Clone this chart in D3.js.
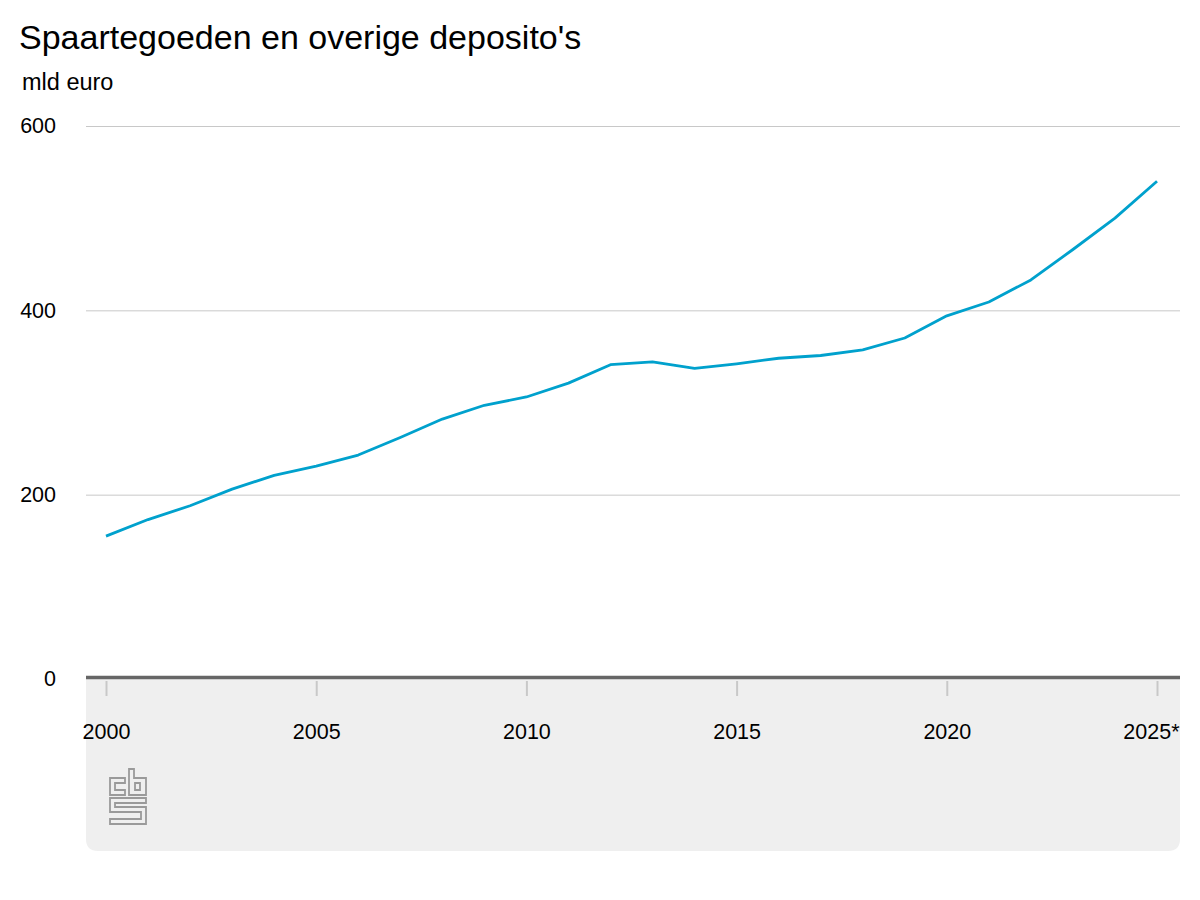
<!DOCTYPE html>
<html>
<head>
<meta charset="utf-8">
<script src="https://cdn.jsdelivr.net/npm/d3@7"></script>
<style>
  body { margin: 0; background: #fff; }
  svg { display: block; font-family: "Liberation Sans", Arial, Helvetica, sans-serif; }
</style>
</head>
<body>
<div id="chart"></div>
<script>
// data
const years = [2000, 2001, 2002, 2003, 2004, 2005, 2006, 2007, 2008, 2009, 2010, 2011, 2012,
  2013, 2014, 2015, 2016, 2017, 2018, 2019, 2020, 2021, 2022, 2023, 2024, 2025];
const values = [155, 173, 188, 206, 221, 231, 243, 262, 282, 297, 306, 321, 341,
  344, 337, 342, 348, 351, 357, 370, 394, 409, 433, 466, 500, 540];
const yTicks = [0, 200, 400, 600];
const xTicks = [2000, 2005, 2010, 2015, 2020, 2025];
const xTickLabels = ["2000", "2005", "2010", "2015", "2020", "2025*"];

const W = 1200, H = 900;
const plotLeft = 86, plotRight = 1180, plotTop = 126, zeroY = 679;

const svg = d3.select("#chart").append("svg")
  .attr("width", W).attr("height", H);

const x = d3.scaleLinear().domain([2000, 2025]).range([106, 1157]);
const y = d3.scaleLinear().domain([0, 600]).range([zeroY, plotTop]);

// titel
svg.append("text").attr("x", 19).attr("y", 49)
  .attr("font-size", 34).attr("fill", "#000")
  .text("Spaartegoeden en overige deposito's");
svg.append("text").attr("x", 22).attr("y", 90)
  .attr("font-size", 23.5).attr("fill", "#000")
  .text("mld euro");

// grijs vlak onder de nullijn
const r = 12, pb = 851;
svg.append("path")
  .attr("d", `M${plotLeft},${zeroY} H${plotRight} V${pb - r} Q${plotRight},${pb} ${plotRight - r},${pb} H${plotLeft + r} Q${plotLeft},${pb} ${plotLeft},${pb - r} Z`)
  .attr("fill", "#efefef");

// y-as met rasterlijnen
const yAxis = svg.append("g")
  .attr("transform", `translate(${plotLeft},0)`)
  .call(d3.axisLeft(y).tickValues(yTicks).tickSize(-(plotRight - plotLeft)).tickPadding(30));
yAxis.select(".domain").remove();
yAxis.selectAll(".tick line")
  .attr("stroke", "#c8c8c8").attr("stroke-width", 1)
  .filter(d => d === 0).remove();
yAxis.selectAll(".tick text")
  .attr("font-size", 21.5).attr("fill", "#000")
  .attr("font-family", "Liberation Sans, Arial, sans-serif");

// x-as
const xAxis = svg.append("g")
  .attr("transform", `translate(0,${zeroY + 2})`)
  .call(d3.axisBottom(x).tickValues(xTicks).tickSize(15).tickPadding(28)
    .tickFormat((d, i) => xTickLabels[i]));
xAxis.select(".domain").remove();
xAxis.selectAll(".tick line").attr("stroke", "#c8c8c8").attr("stroke-width", 2);
xAxis.selectAll(".tick text")
  .attr("font-size", 21.5).attr("fill", "#000")
  .attr("font-family", "Liberation Sans, Arial, sans-serif")
  .filter((d, i) => i === xTicks.length - 1)
  .attr("text-anchor", "end").attr("dx", 22);

// nullijn
svg.append("line")
  .attr("x1", plotLeft).attr("x2", plotRight)
  .attr("y1", y(0) - 1.5).attr("y2", y(0) - 1.5)
  .attr("stroke", "#666").attr("stroke-width", 3.5);

// lijn
const line = d3.line().x((d, i) => x(years[i])).y(d => y(d));
svg.append("path")
  .datum(values)
  .attr("d", line)
  .attr("fill", "none")
  .attr("stroke", "#00a1cd")
  .attr("stroke-width", 2.8)
  .attr("stroke-linejoin", "round");

// cbs logo
const logo = svg.append("g").attr("transform", "translate(110,769)")
  .attr("fill", "none").attr("stroke", "#9a9a9a").attr("stroke-width", 1.8);
logo.append("path").attr("d", "M15,9 H0 V26 H15 V21 H5 V14 H15 Z");
logo.append("path").attr("d", "M19,0 H24 V9 H36 V26 H19 Z");
logo.append("path").attr("d", "M25,14 H30 V21 H25 Z");
logo.append("path").attr("d", "M0,29 H36 V34 H5 V38 H36 V55 H0 V50 H31 V43 H0 Z");
</script>
</body>
</html>
